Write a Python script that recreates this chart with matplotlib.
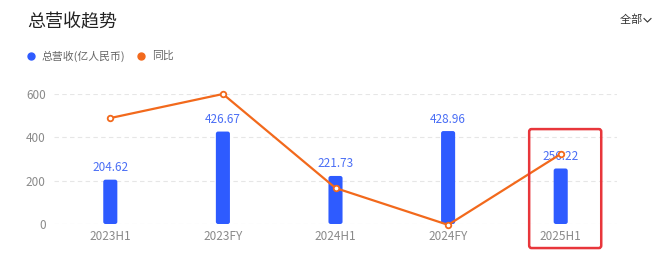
import matplotlib
matplotlib.use("Agg")
import matplotlib.pyplot as plt
from matplotlib.patches import FancyBboxPatch
import matplotlib.transforms as mtransforms

plt.rcParams['font.family'] = ['Noto Sans CJK SC', 'DejaVu Sans']

categories = ["2023H1", "2023FY", "2024H1", "2024FY", "2025H1"]
revenue = [204.62, 426.67, 221.73, 428.96, 256.22]
yoy = [489, 600, 166, -4, 323]
yticks = [0, 200, 400, 600]

title = "总营收趋势"
legend_rev = "总营收(亿人民币)"
legend_yoy = "同比"
menu = "全部"

BLUE = "#2e5bff"
LABEL_BLUE = "#4a6ef5"
ORANGE = "#f2691c"
GRAY = "#8a8a8a"

fig = plt.figure(figsize=(6.6, 2.61), dpi=100)
ax = fig.add_axes([54/660, 37/261, 563/660, 130/261])

x = list(range(len(categories)))
ax.set_xlim(-0.5, len(categories) - 0.5)
ax.set_ylim(0, 600)

# aspect between data units in y and x per pixel
ax_w_px = 563.0
ax_h_px = 130.0
aspect = (600 / ax_h_px) / (len(categories) / ax_w_px)

bars = ax.bar(x, revenue, width=0.125, color=BLUE, zorder=3)
for b in bars:
    b.set_visible(False)
    bx, by = b.get_x(), b.get_y()
    w, h = b.get_width(), b.get_height()
    p = FancyBboxPatch((bx, by), w, h,
                       boxstyle="round,pad=0,rounding_size=0.02",
                       mutation_aspect=aspect, color=BLUE, zorder=3, linewidth=0)
    ax.add_patch(p)

for xi, v in zip(x, revenue):
    ax.annotate(f"{v:.2f}", (xi, v), xytext=(0, 4), textcoords="offset points",
                ha="center", va="bottom", fontsize=8.5, color=LABEL_BLUE, zorder=5)

ax.plot(x, yoy, color=ORANGE, linewidth=1.6, marker="o", markersize=4,
        markerfacecolor="white", markeredgecolor=ORANGE, markeredgewidth=1.3,
        zorder=6, clip_on=False)

ax.set_yticks(yticks)
ax.set_xticks(x)
ax.set_xticklabels(categories)
ax.tick_params(axis="both", length=0, labelsize=8.5, labelcolor=GRAY)
ax.tick_params(axis="x", pad=4)
ax.tick_params(axis="y", pad=6)
for s in ax.spines.values():
    s.set_visible(False)
ax.grid(axis="y", color="#e6e6e6", linestyle=(0, (4, 3)), linewidth=0.8, zorder=0)
ax.set_axisbelow(True)

# highlight box around last category
trans = mtransforms.blended_transform_factory(ax.transData, ax.transAxes)
last = len(categories) - 1
box = FancyBboxPatch((last - 0.28, -0.185), 0.64, 0.915,
                     boxstyle="round,pad=0,rounding_size=0.02",
                     transform=trans, fill=False, edgecolor="#e8363b",
                     linewidth=1.8, clip_on=False, zorder=7,
                     mutation_aspect=1.0)
ax.add_patch(box)

# title and legend
fig.text(27/660, 1 - 22/261, title, fontsize=13, color="#222222", va="center", ha="left")
fig.text(620/660, 1 - 20/261, menu + " ", fontsize=8, color="#333333", va="center", ha="left")
fig.lines.append(plt.Line2D([644/660, 647.5/660, 651/660],
                            [1 - 18.5/261, 1 - 22/261, 1 - 18.5/261],
                            transform=fig.transFigure, color="#333333", linewidth=0.8))

fig.lines.append(plt.Line2D([31/660], [1 - 56/261], transform=fig.transFigure,
                            marker="o", markersize=5, color=BLUE, linestyle="none"))
fig.text(42/660, 1 - 56/261, legend_rev, fontsize=7.8, color="#666666", va="center", ha="left")
fig.lines.append(plt.Line2D([141/660], [1 - 56/261], transform=fig.transFigure,
                            marker="o", markersize=5, color=ORANGE, linestyle="none"))
fig.text(152/660, 1 - 56/261, legend_yoy, fontsize=7.8, color="#666666", va="center", ha="left")

fig.savefig("out.png", dpi=100)
